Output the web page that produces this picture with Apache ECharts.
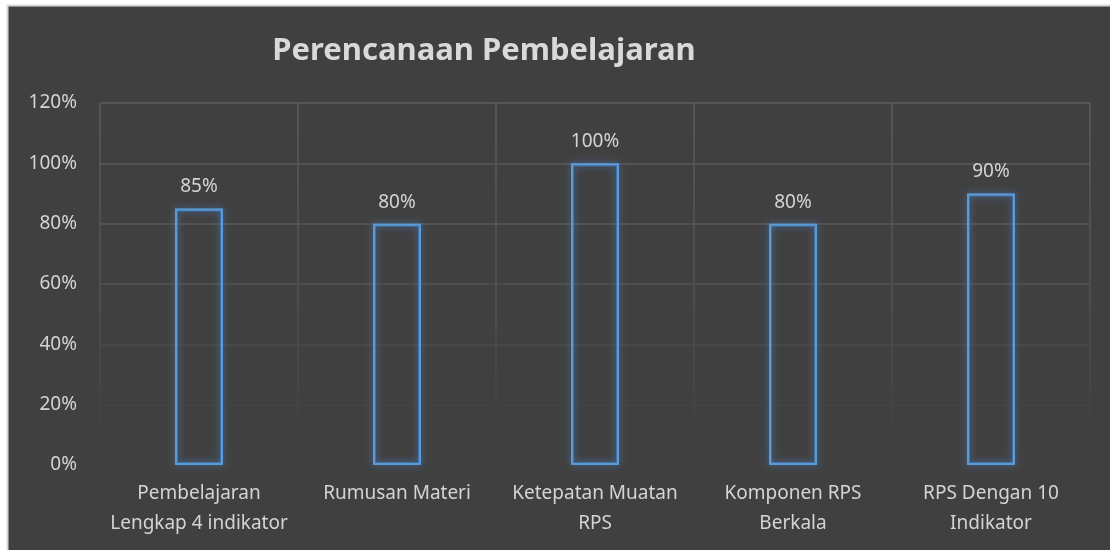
<!DOCTYPE html>
<html>
<head>
<meta charset="utf-8">
<script src="https://cdn.jsdelivr.net/npm/echarts@6/dist/echarts.min.js"></script>
<style>
  html, body { margin: 0; padding: 0; background: #ffffff; }
  #chart { width: 1110px; height: 550px; }
</style>
</head>
<body>
<div id="chart"></div>
<script>
const chartTitle = "Perencanaan Pembelajaran";
const categories = [
  "Pembelajaran\nLengkap 4 indikator",
  "Rumusan Materi",
  "Ketepatan Muatan\nRPS",
  "Komponen RPS\nBerkala",
  "RPS Dengan 10\nIndikator",
];
const values = [85, 80, 100, 80, 90];
const yTicks = [0, 20, 40, 60, 80, 100, 120];

const textColor = "#d4d4d4";
const fontName = "Noto Sans";

const chart = echarts.init(document.getElementById("chart"), null, { renderer: "canvas" });

const option = {
  backgroundColor: "#ffffff",
  animation: false,
  graphic: [
    {
      type: "rect",
      z: -10,
      silent: true,
      shape: { x: 7.5, y: 5.5, width: 1110, height: 560 },
      style: { fill: "#404040", stroke: "#d9d9d9", lineWidth: 2 },
    },
    {
      type: "text",
      z: 10,
      x: 484,
      y: 51,
      style: {
        text: chartTitle,
        fill: "#d9d9d9",
        font: "bold 31px '" + fontName + "'",
        textAlign: "center",
        textVerticalAlign: "middle",
      },
    },
  ],
  grid: {
    left: 100,
    right: 20,
    top: 103,
    bottom: 85,
  },
  xAxis: {
    type: "category",
    data: categories,
    axisLine: { show: false },
    axisTick: { show: false },
    axisLabel: {
      color: textColor,
      fontFamily: fontName,
      fontSize: 19,
      lineHeight: 30,
      margin: 14,
      interval: 0,
    },
    splitLine: {
      show: true,
      lineStyle: {
        width: 1.5,
        // gridlines fade out toward the bottom
        color: new echarts.graphic.LinearGradient(0, 103, 0, 440, [
          { offset: 0, color: "#5c5c5c" },
          { offset: 0.6, color: "#515151" },
          { offset: 1, color: "#404040" },
        ], true),
      },
    },
  },
  yAxis: {
    type: "value",
    min: yTicks[0],
    max: yTicks[yTicks.length - 1],
    interval: 20,
    axisLine: { show: false },
    axisTick: { show: false },
    axisLabel: {
      color: textColor,
      fontFamily: fontName,
      fontSize: 19,
      margin: 23,
      formatter: "{value}%",
    },
    splitLine: {
      lineStyle: {
        width: 1.5,
        color: ["#404040", "#444444", "#4a4a4a", "#525252", "#585858", "#5a5a5a", "#5c5c5c"],
      },
    },
  },
  series: [
    {
      // soft glow behind the outline
      type: "bar",
      data: values,
      barWidth: 48,
      barGap: "-100%",
      silent: true,
      z: 1,
      itemStyle: {
        color: "rgba(0,0,0,0)",
        borderColor: "rgba(70,135,210,0.6)",
        borderWidth: 3,
        shadowBlur: 7,
        shadowColor: "rgba(70,140,225,1)",
      },
    },
    {
      type: "bar",
      data: values,
      barWidth: 48,
      barGap: "-100%",
      z: 2,
      itemStyle: {
        color: "rgba(0,0,0,0)",
        borderColor: "#5b9bd5",
        borderWidth: 2,
      },
      label: {
        show: true,
        position: "top",
        distance: 12,
        color: textColor,
        fontFamily: fontName,
        fontSize: 19,
        formatter: "{c}%",
      },
    },
  ],
};

chart.setOption(option);
</script>
</body>
</html>
